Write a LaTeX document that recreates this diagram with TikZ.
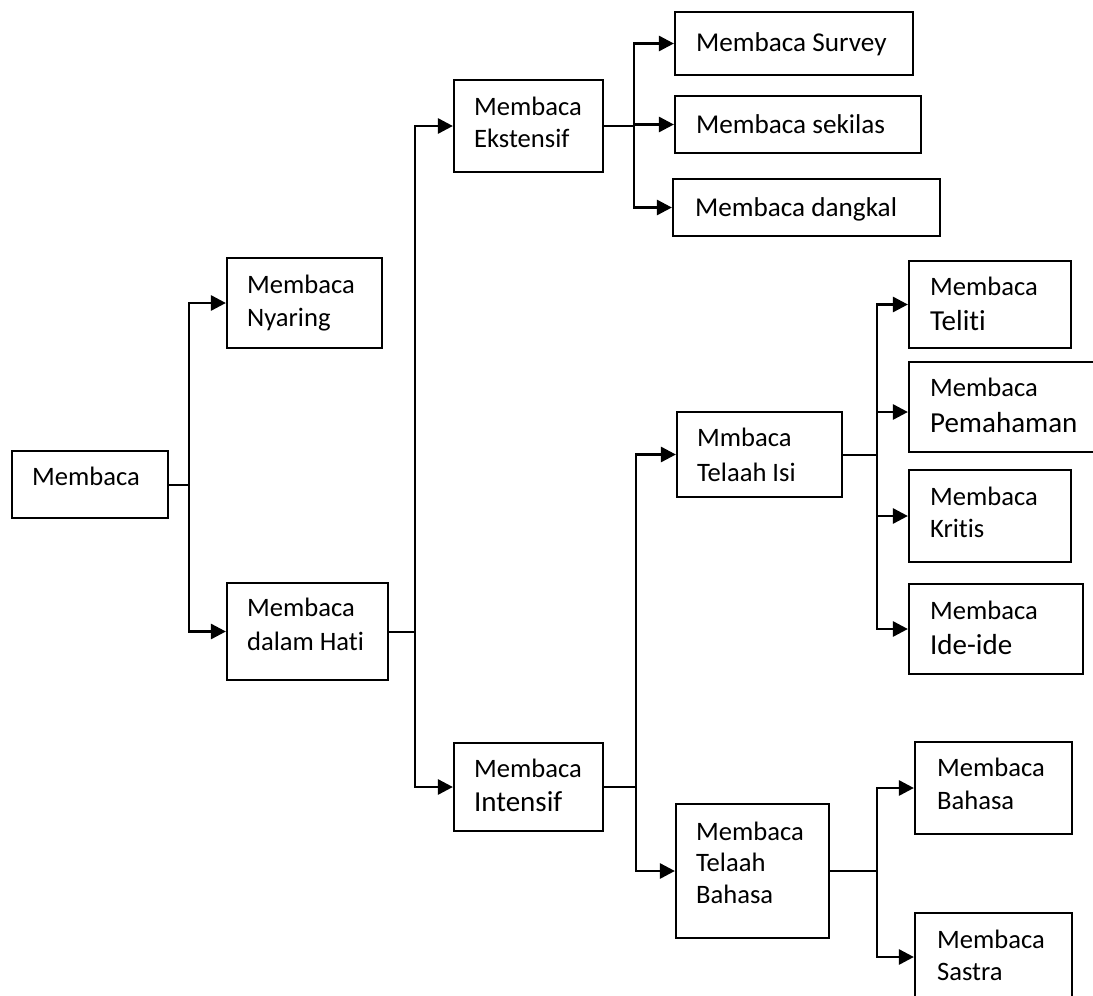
\documentclass[tikz,border=0pt]{standalone}
\usepackage{fontspec}
\setmainfont{Carlito}[Ligatures=CommonOff]
\usetikzlibrary{arrows.meta,fit,calc}
\begin{document}
\begin{tikzpicture}[x=1pt,y=1pt,
  box/.style={draw, line width=2.2pt, inner sep=0pt},
  txt/.style={anchor=base west, inner sep=0pt, font=\fontsize{26.6}{33}\selectfont},
  txtb/.style={txt, font=\fontsize{29}{35}\selectfont},
  txtm/.style={txt, font=\fontsize{27.2}{33}\selectfont},
  stub/.style={line width=2pt},
  arr/.style={line width=2.8pt, -{Triangle[length=15pt,width=15pt]}}]
\useasboundingbox (0,0) rectangle (1093,-996);
\clip (0,0) rectangle (1093,-996);

% boxes
\node[box, fit={(12,-451)(168,-518)}] (root) {};
\node[box, fit={(227,-258)(382,-348)}] (nyaring) {};
\node[box, fit={(227,-583)(388,-680)}] (hati) {};
\node[box, fit={(454,-80)(603,-172)}] (ekst) {};
\node[box, fit={(454,-743)(603,-831)}] (inten) {};
\node[box, fit={(675,-12)(913,-75)}] (survey) {};
\node[box, fit={(675,-96)(921,-153)}] (sekilas) {};
\node[box, fit={(673,-179)(940,-236)}] (dangkal) {};
\node[box, fit={(677,-412)(842,-497)}] (isi) {};
\node[box, fit={(676,-804)(829,-938)}] (tbahasa) {};
\node[box, fit={(909,-261)(1071,-348)}] (teliti) {};
\node[box, fit={(909,-362)(1110,-452)}] (pemahaman) {};
\node[box, fit={(909,-470)(1071,-562)}] (kritis) {};
\node[box, fit={(909,-584)(1083,-674)}] (ide) {};
\node[box, fit={(915,-742)(1072,-834)}] (bahasa) {};
\node[box, fit={(915,-913)(1072,-1001)}] (sastra) {};

% texts
\node[txt] (root-a) at ($(root.north west)+(21,-36)$) {Membaca};
\node[txt] (nyaring-a) at ($(nyaring.north west)+(21,-37)$) {Membaca};
\node[txt] (nyaring-b) at ($(nyaring.north west)+(21,-70)$) {Nyaring};
\node[txt] (hati-a) at ($(hati.north west)+(21,-35)$) {Membaca};
\node[txt] (hati-b) at ($(hati.north west)+(21,-69)$) {dalam Hati};
\node[txt] (ekst-a) at ($(ekst.north west)+(21,-37)$) {Membaca};
\node[txt] (ekst-b) at ($(ekst.north west)+(21,-69)$) {Ekstensif};
\node[txtm] (survey-a) at ($(survey.north west)+(22,-41)$) {Membaca Survey};
\node[txtm] (sekilas-a) at ($(sekilas.north west)+(22,-39)$) {Membaca sekilas};
\node[txtm] (dangkal-a) at ($(dangkal.north west)+(23,-39)$) {Membaca dangkal};
\node[txt] (isi-a) at ($(isi.north west)+(21,-36)$) {Mmbaca};
\node[txt] (isi-b) at ($(isi.north west)+(21,-71)$) {Telaah Isi};
\node[txt] (inten-a) at ($(inten.north west)+(21,-36)$) {Membaca};
\node[txtb] (inten-b) at ($(inten.north west)+(21,-70)$) {Intensif};
\node[txt] (tbahasa-a) at ($(tbahasa.north west)+(21,-38)$) {Membaca};
\node[txt] (tbahasa-b) at ($(tbahasa.north west)+(21,-69)$) {Telaah};
\node[txt] (tbahasa-c) at ($(tbahasa.north west)+(21,-101)$) {Bahasa};
\node[txt] (teliti-a) at ($(teliti.north west)+(22,-36)$) {Membaca};
\node[txtb] (teliti-b) at ($(teliti.north west)+(22,-71)$) {Teliti};
\node[txt] (pemahaman-a) at ($(pemahaman.north west)+(22,-36)$) {Membaca};
\node[txtb] (pemahaman-b) at ($(pemahaman.north west)+(22,-72)$) {Pemahaman};
\node[txt] (kritis-a) at ($(kritis.north west)+(22,-37)$) {Membaca};
\node[txt] (kritis-b) at ($(kritis.north west)+(22,-69)$) {Kritis};
\node[txt] (ide-a) at ($(ide.north west)+(22,-37)$) {Membaca};
\node[txtb] (ide-b) at ($(ide.north west)+(22,-72)$) {Ide-ide};
\node[txt] (bahasa-a) at ($(bahasa.north west)+(23,-36)$) {Membaca};
\node[txt] (bahasa-b) at ($(bahasa.north west)+(23,-69)$) {Bahasa};
\node[txt] (sastra-a) at ($(sastra.north west)+(23,-37)$) {Membaca};
\node[txt] (sastra-b) at ($(sastra.north west)+(23,-69)$) {Sastra};

% trunk x positions
\coordinate (j1) at (189,0);
\coordinate (j2) at (415,0);
\coordinate (j3) at (634,0);
\coordinate (j4) at (636,0);
\coordinate (j5) at (877,0);

% connectors
\draw[stub] (root.east) -- (root.east -| j1);
\draw[arr] (root.east -| j1) |- (nyaring.west);
\draw[arr] (root.east -| j1) |- (hati.west);

\draw[stub] (hati.east) -- (hati.east -| j2);
\draw[arr] (hati.east -| j2) |- (ekst.west);
\draw[arr] (hati.east -| j2) |- (inten.west);

\draw[stub] (ekst.east) -- (ekst.east -| j3);
\draw[arr] (ekst.east -| j3) |- (survey.west);
\draw[arr] (ekst.east -| j3) |- (sekilas.west);
\draw[arr] (ekst.east -| j3) |- (dangkal.west);

\draw[stub] (inten.east) -- (inten.east -| j4);
\draw[arr] (inten.east -| j4) |- (isi.west);
\draw[arr] (inten.east -| j4) |- (tbahasa.west);

\draw[stub] (isi.east) -- (isi.east -| j5);
\draw[arr] (isi.east -| j5) |- (teliti.west);
\draw[arr] (isi.east -| j5) |- ([yshift=-5pt]pemahaman.west);
\draw[arr] (isi.east -| j5) |- (kritis.west);
\draw[arr] (isi.east -| j5) |- (ide.west);

\draw[stub] (tbahasa.east) -- (tbahasa.east -| j5);
\draw[arr] (tbahasa.east -| j5) |- (bahasa.west);
\draw[arr] (tbahasa.east -| j5) |- (sastra.west);
\end{tikzpicture}
\end{document}
